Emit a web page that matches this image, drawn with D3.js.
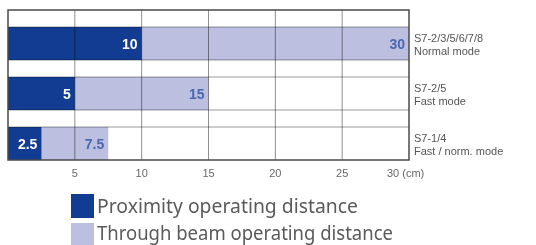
<!DOCTYPE html>
<html>
<head>
<meta charset="utf-8">
<script src="https://cdn.jsdelivr.net/npm/d3@7"></script>
<style>
  body { margin: 0; background: #fff; }
  svg { display: block; }
</style>
</head>
<body>
<svg width="536" height="245"></svg>
<script>
// data
const models = ["S7-2/3/5/6/7/8", "S7-2/5", "S7-1/4"];
const modes = ["Normal mode", "Fast mode", "Fast / norm. mode"];
const proximity = [10, 5, 2.5];
const throughBeam = [30, 15, 7.5];
const ticks = [5, 10, 15, 20, 25, 30];
const legendLabels = ["Proximity operating distance", "Through beam operating distance"];

const darkBlue = "#113c92", lightBlue = "#bcbfe0";

var svg = d3.select("svg");

var plot = {left: 8, top: 10, right: 409, bottom: 160};

var x = d3.scaleLinear().domain([0, 30]).range([plot.left, plot.right]);
var y = d3.scaleBand().domain(models).range([27, plot.bottom]).paddingInner(0.34).paddingOuter(0);

var g = svg.append("g");

// light bars (through beam)
g.selectAll(".tb").data(models).enter().append("rect")
    .attr("x", x(0))
    .attr("y", d => y(d))
    .attr("width", (d, i) => x(throughBeam[i]) - x(0))
    .attr("height", y.bandwidth())
    .attr("fill", lightBlue);

// dark bars (proximity)
g.selectAll(".px").data(models).enter().append("rect")
    .attr("x", x(0))
    .attr("y", d => y(d))
    .attr("width", (d, i) => x(proximity[i]) - x(0))
    .attr("height", y.bandwidth())
    .attr("fill", darkBlue);

// grid lines (multiply so they darken whatever is below)
g.selectAll(".vgrid").data(ticks.slice(0, -1)).enter().append("line")
    .attr("x1", d => x(d)).attr("x2", d => x(d))
    .attr("y1", plot.top).attr("y2", plot.bottom)
    .attr("stroke", "#8f8f8f").attr("stroke-width", 1)
    .style("mix-blend-mode", "multiply");

var hl = [];
models.forEach(m => { hl.push(y(m)); hl.push(y(m) + y.bandwidth()); });
g.selectAll(".hgrid").data(hl.slice(0, -1)).enter().append("line")
    .attr("x1", plot.left).attr("x2", plot.right)
    .attr("y1", d => d).attr("y2", d => d)
    .attr("stroke", "#9a9a9a").attr("stroke-width", 1)
    .style("mix-blend-mode", "multiply");

// frame
g.append("rect")
    .attr("x", plot.left).attr("y", plot.top)
    .attr("width", plot.right - plot.left).attr("height", plot.bottom - plot.top)
    .attr("fill", "none").attr("stroke", "#4a4a4a").attr("stroke-width", 1.5);

// value labels
g.selectAll(".pxl").data(models).enter().append("text")
    .attr("x", (d, i) => x(proximity[i]) - 4)
    .attr("y", d => y(d) + y.bandwidth() / 2 + 5)
    .attr("text-anchor", "end")
    .attr("font-family", "Liberation Sans, Arial, sans-serif")
    .attr("font-size", 14)
    .attr("font-weight", "bold")
    .attr("fill", "#fff")
    .text((d, i) => proximity[i]);

g.selectAll(".tbl").data(models).enter().append("text")
    .attr("x", (d, i) => x(throughBeam[i]) - 4)
    .attr("y", d => y(d) + y.bandwidth() / 2 + 5)
    .attr("text-anchor", "end")
    .attr("font-family", "Liberation Sans, Arial, sans-serif")
    .attr("font-size", 14)
    .attr("font-weight", "bold")
    .attr("fill", "#4a68b0")
    .text((d, i) => throughBeam[i]);

// x axis tick labels
g.selectAll(".tick").data(ticks.slice(0, -1)).enter().append("text")
    .attr("x", d => x(d))
    .attr("y", 177)
    .attr("text-anchor", "middle")
    .attr("font-family", "Liberation Sans, Arial, sans-serif")
    .attr("font-size", 11)
    .attr("fill", "#666")
    .text(d => d);
g.append("text")
    .attr("x", x(30) - 22).attr("y", 177)
    .attr("font-family", "Liberation Sans, Arial, sans-serif")
    .attr("font-size", 11).attr("fill", "#666")
    .text(ticks[ticks.length - 1] + " (cm)");

// category labels
var cat = g.selectAll(".cat").data(models).enter().append("text")
    .attr("font-family", "Liberation Sans, Arial, sans-serif")
    .attr("font-size", 11)
    .attr("fill", "#555");
cat.append("tspan")
    .attr("x", 414).attr("y", d => y(d) + 15)
    .text(d => d);
cat.append("tspan")
    .attr("x", 414).attr("y", d => y(d) + 28)
    .text((d, i) => modes[i]);

// legend
var leg = svg.append("g").attr("transform", "translate(71,194)");
leg.selectAll("rect").data(legendLabels).enter().append("rect")
    .attr("x", 0).attr("y", (d, i) => i * 29)
    .attr("width", 23).attr("height", 24)
    .attr("fill", (d, i) => i == 0 ? darkBlue : lightBlue);
leg.selectAll("text").data(legendLabels).enter().append("text")
    .attr("x", 26).attr("y", (d, i) => 19 + i * 27)
    .attr("font-family", "Noto Sans, sans-serif")
    .attr("font-size", 20)
    .attr("fill", "#5a5a5a")
    .attr("textLength", (d, i) => i == 0 ? 261 : 296)
    .attr("lengthAdjust", "spacingAndGlyphs")
    .text(d => d);
</script>
</body>
</html>
